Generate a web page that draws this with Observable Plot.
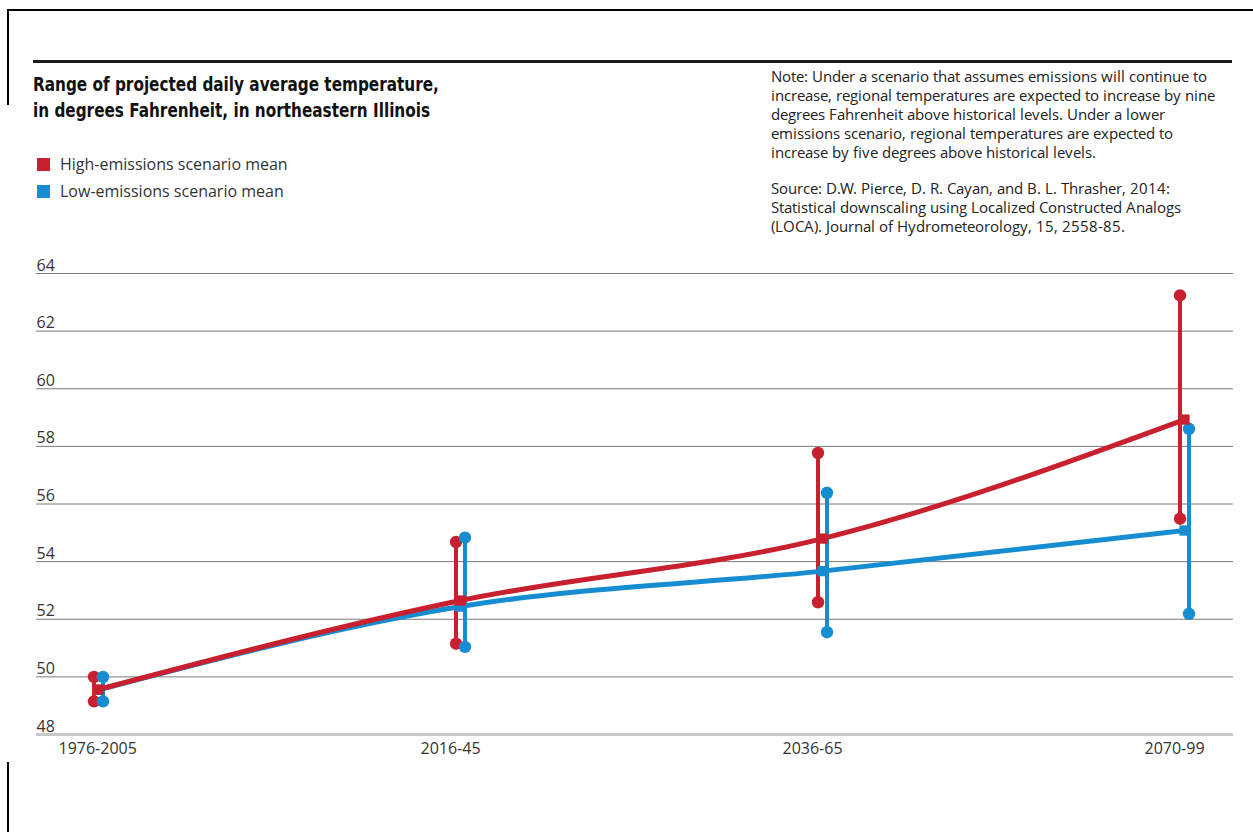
<!DOCTYPE html>
<html><head><meta charset="utf-8">
<script src="https://cdn.jsdelivr.net/npm/d3@7"></script>
<script src="https://cdn.jsdelivr.net/npm/@observablehq/plot@0.6"></script>
<style>
@font-face{font-family:"NoteSans";src:local("Open Sans"),local("Open Sans Regular"),local("OpenSans-Regular");ascent-override:92%;descent-override:26%;line-gap-override:0%;}
html,body{margin:0;padding:0;background:#fff;}
#page{position:relative;width:1253px;height:832px;overflow:hidden;font-family:"Open Sans",Lato,sans-serif;color:#222;}
.ftop{position:absolute;left:7px;top:9px;width:1246px;height:2px;background:#000;}
.fleft{position:absolute;left:7px;width:2px;background:#000;}
#rule{position:absolute;left:33px;top:60px;width:1199px;height:3px;background:#1a1a1a;}
#title{position:absolute;left:33px;top:72px;font-family:"DejaVu Sans Condensed","DejaVu Sans",sans-serif;font-stretch:condensed;font-weight:bold;font-size:19.5px;line-height:26px;color:#111;white-space:nowrap;transform:scaleX(0.87);transform-origin:0 0;}
#legend{position:absolute;left:37px;top:151px;font-size:16px;line-height:27px;color:#333;white-space:nowrap;}
.sw{display:inline-block;width:13px;height:13px;margin-right:10px;vertical-align:-1px;}
#note{position:absolute;left:771px;top:68px;font-family:"NoteSans","Open Sans",sans-serif;font-size:15.3px;line-height:19px;color:#222;white-space:nowrap;}
#source{margin-top:17px;}
#chart{position:absolute;left:0;top:250px;}
</style>
</head>
<body>
<div id="page">
  <div class="ftop"></div>
  <div class="fleft" style="top:9px;height:96px"></div>
  <div class="fleft" style="top:762px;height:70px"></div>
  <div id="rule"></div>
  <div id="title">Range of projected daily average temperature,<br>in degrees Fahrenheit, in northeastern Illinois</div>
  <div id="legend"></div>
  <div id="note">Note: Under a scenario that assumes emissions will continue to<br>increase, regional temperatures are expected to increase by nine<br>degrees Fahrenheit above historical levels. Under a lower<br>emissions scenario, regional temperatures are expected to<br>increase by five degrees above historical levels.
    <div id="source">Source: D.W. Pierce, D. R. Cayan, and B. L. Thrasher, 2014:<br>Statistical downscaling using Localized Constructed Analogs<br>(LOCA). Journal of Hydrometeorology, 15, 2558-85.</div>
  </div>
  <div id="chart"></div>
</div>
<script>
const periods = ["1976-2005", "2016-45", "2036-65", "2070-99"];
const highMean = [49.56, 52.65, 54.80, 58.93];
const highMin  = [49.15, 51.15, 52.59, 55.49];
const highMax  = [50.00, 54.68, 57.77, 63.24];
const lowMean  = [49.55, 52.44, 53.67, 55.08];
const lowMin   = [49.15, 51.04, 51.55, 52.19];
const lowMax   = [50.00, 54.83, 56.39, 58.61];
const yTicks   = [48, 50, 52, 54, 56, 58, 60, 62, 64];
const seriesNames = ["High-emissions scenario mean", "Low-emissions scenario mean"];

const RED = "#c9202f", BLUE = "#168dd0";

const high = periods.map((p, i) => ({period: p, mean: highMean[i], min: highMin[i], max: highMax[i]}));
const low  = periods.map((p, i) => ({period: p, mean: lowMean[i],  min: lowMin[i],  max: lowMax[i]}));

document.getElementById("legend").innerHTML = seriesNames.map((n, i) =>
  `<div><span class="sw" style="background:${i === 0 ? RED : BLUE}"></span>${n}</div>`).join("");

const chart = Plot.plot({
  width: 1253,
  height: 540,
  marginLeft: 36,
  marginRight: 20,
  marginTop: 23,
  marginBottom: 56,
  style: {fontFamily: "'Open Sans', Lato, sans-serif", fontSize: "16px", background: "transparent", overflow: "visible"},
  x: {type: "point", domain: periods, padding: 0.15, align: 0.56},
  y: {domain: [48, 64]},
  marks: [
    Plot.ruleY(yTicks.filter(d => d > 48), {stroke: "#7a7a7a", strokeWidth: 1}),
    Plot.ruleY([48], {stroke: "#c8c8c8", strokeWidth: 3}),
    Plot.axisY({ticks: yTicks, tickSize: 0, tickPadding: 0, textAnchor: "start", lineAnchor: "bottom", dy: -3, fill: "#333", label: null}),
    Plot.axisX({tickSize: 0, tickPadding: 8, textAnchor: "start", dx: -40, fill: "#333", label: null}),
    // range bars
    Plot.ruleX(high, {x: "period", y1: "min", y2: "max", stroke: RED, strokeWidth: 4, dx: -4.5}),
    Plot.dot(high, {x: "period", y: "min", r: 6.2, fill: RED, dx: -4.5}),
    Plot.dot(high, {x: "period", y: "max", r: 6.2, fill: RED, dx: -4.5}),
    Plot.ruleX(low, {x: "period", y1: "min", y2: "max", stroke: BLUE, strokeWidth: 4, dx: 4.5}),
    Plot.dot(low, {x: "period", y: "min", r: 6.2, fill: BLUE, dx: 4.5}),
    Plot.dot(low, {x: "period", y: "max", r: 6.2, fill: BLUE, dx: 4.5}),
    // mean lines
    Plot.line(low, {x: "period", y: "mean", stroke: BLUE, strokeWidth: 5, curve: "monotone-x"}),
    Plot.line(high, {x: "period", y: "mean", stroke: RED, strokeWidth: 5, curve: "monotone-x"}),
    Plot.dot(low, {x: "period", y: "mean", symbol: "square", r: 5.8, fill: BLUE}),
    Plot.dot(high, {x: "period", y: "mean", symbol: "square", r: 5.8, fill: RED})
  ]
});
document.getElementById("chart").appendChild(chart);
</script>
</body></html>
